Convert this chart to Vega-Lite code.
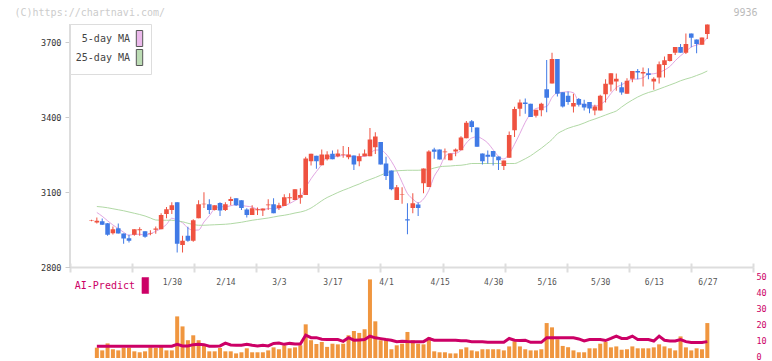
{
"$schema": "https://vega.github.io/schema/vega-lite/v6.json",
"width": 683,
"height": 350,
"autosize": {"type": "none"},
"padding": {"left": 70, "top": 8, "right": 19, "bottom": 3},
"background": "white",
"config": {"view": {"stroke": null}, "font": "DejaVu Sans Mono", "axis": {"grid": false}, "scale": {"continuousPadding": 0}},
"datasets": {"d": [
{"i":1,"o":2985,"h":2989,"l":2983,"c":2987},
{"i":2,"o":2978,"h":2998,"l":2974,"c":2985,"v":6.5,"ai":7.4,"m5":3018,"m25":3042},
{"i":3,"o":2983,"h":2994,"l":2968,"c":2969,"v":4.8,"ai":7.4,"m5":3003,"m25":3040},
{"i":4,"o":2975,"h":2976,"l":2925,"c":2929,"v":9.2,"ai":7.4,"m5":2985,"m25":3037},
{"i":5,"o":2935,"h":2962,"l":2930,"c":2951,"v":5.5,"ai":7.4,"m5":2968,"m25":3033},
{"i":6,"o":2955,"h":2974,"l":2934,"c":2934,"v":4.8,"ai":7.4,"m5":2954,"m25":3029},
{"i":7,"o":2934,"h":2934,"l":2893,"c":2914,"v":6.5,"ai":7.4,"m5":2939,"m25":3025},
{"i":8,"o":2915,"h":2929,"l":2898,"c":2905,"v":6.5,"ai":7.4,"m5":2927,"m25":3020},
{"i":9,"o":2929,"h":2951,"l":2925,"c":2951,"v":4.2,"ai":7.4,"m5":2931,"m25":3015},
{"i":10,"o":2947,"h":2959,"l":2925,"c":2951,"v":3.6,"ai":7.4,"m5":2931,"m25":3010},
{"i":11,"o":2943,"h":2943,"l":2917,"c":2921,"v":4.2,"ai":7.4,"m5":2928,"m25":3004},
{"i":12,"o":2934,"h":2947,"l":2927,"c":2936,"v":6.7,"ai":7.4,"m5":2933,"m25":2996},
{"i":13,"o":2949,"h":2962,"l":2933,"c":2954,"v":6.3,"ai":7.4,"m5":2943,"m25":2988},
{"i":14,"o":2951,"h":3015,"l":2951,"c":3008,"v":6.9,"ai":7.4,"m5":2954,"m25":2987},
{"i":15,"o":3012,"h":3040,"l":2995,"c":3031,"v":4.8,"ai":7.4,"m5":2970,"m25":2987},
{"i":16,"o":3028,"h":3059,"l":3012,"c":3047,"v":4.8,"ai":7.4,"m5":2995,"m25":2987},
{"i":17,"o":3059,"h":3059,"l":2858,"c":2893,"v":26.2,"ai":8.6,"m5":2987,"m25":2984},
{"i":18,"o":2888,"h":2925,"l":2858,"c":2905,"v":19.9,"ai":7.6,"m5":2977,"m25":2981},
{"i":19,"o":2925,"h":2961,"l":2901,"c":2905,"v":11.2,"ai":7.6,"m5":2956,"m25":2975},
{"i":20,"o":2905,"h":2991,"l":2901,"c":2987,"v":14.3,"ai":8.4,"m5":2947,"m25":2970},
{"i":21,"o":2995,"h":3067,"l":2995,"c":3051,"v":11.2,"ai":8.6,"m5":2948,"m25":2967},
{"i":22,"o":3051,"h":3099,"l":3036,"c":3053,"v":7.6,"ai":8.4,"m5":2980,"m25":2967},
{"i":23,"o":3051,"h":3071,"l":3012,"c":3028,"v":4.2,"ai":7.4,"m5":3005,"m25":2968},
{"i":24,"o":3028,"h":3047,"l":3026,"c":3047,"v":4.2,"ai":7.4,"m5":3033,"m25":2969},
{"i":25,"o":3056,"h":3059,"l":3004,"c":3026,"v":6.3,"ai":7.6,"m5":3041,"m25":2970},
{"i":26,"o":3028,"h":3059,"l":3024,"c":3051,"v":4.2,"ai":9.4,"m5":3041,"m25":2971},
{"i":27,"o":3064,"h":3081,"l":3047,"c":3072,"v":4.2,"ai":8.2,"m5":3045,"m25":2973},
{"i":28,"o":3075,"h":3075,"l":3044,"c":3047,"v":2.9,"ai":8.0,"m5":3049,"m25":2976},
{"i":29,"o":3067,"h":3067,"l":3028,"c":3036,"v":3.6,"ai":8.0,"m5":3046,"m25":2979},
{"i":30,"o":3030,"h":3035,"l":2998,"c":3008,"v":6.1,"ai":8.6,"m5":3043,"m25":2983},
{"i":31,"o":3008,"h":3047,"l":3008,"c":3035,"v":3.6,"ai":8.0,"m5":3040,"m25":2987},
{"i":32,"o":3027,"h":3038,"l":3008,"c":3031,"v":3.6,"ai":7.6,"m5":3031,"m25":2990},
{"i":33,"o":3026,"h":3034,"l":3004,"c":3034,"v":3.6,"ai":8.0,"m5":3029,"m25":2993},
{"i":34,"o":3047,"h":3071,"l":3028,"c":3050,"v":4.8,"ai":7.6,"m5":3034,"m25":2996},
{"i":35,"o":3051,"h":3075,"l":3015,"c":3015,"v":6.7,"ai":9.2,"m5":3033,"m25":3000},
{"i":36,"o":3036,"h":3057,"l":3028,"c":3047,"v":5.5,"ai":9.4,"m5":3035,"m25":3004},
{"i":37,"o":3044,"h":3091,"l":3044,"c":3079,"v":8.0,"ai":8.6,"m5":3045,"m25":3007},
{"i":38,"o":3075,"h":3095,"l":3056,"c":3079,"v":6.1,"ai":9.2,"m5":3054,"m25":3011},
{"i":39,"o":3068,"h":3111,"l":3068,"c":3111,"v":6.7,"ai":8.8,"m5":3066,"m25":3016},
{"i":40,"o":3077,"h":3115,"l":3053,"c":3088,"v":8.0,"ai":8.8,"m5":3081,"m25":3020},
{"i":41,"o":3088,"h":3241,"l":3088,"c":3234,"v":21.2,"ai":14.4,"m5":3118,"m25":3026},
{"i":42,"o":3223,"h":3253,"l":3206,"c":3253,"v":11.2,"ai":12.8,"m5":3153,"m25":3036},
{"i":43,"o":3245,"h":3245,"l":3193,"c":3223,"v":8.8,"ai":12.8,"m5":3182,"m25":3050},
{"i":44,"o":3207,"h":3270,"l":3207,"c":3250,"v":10.1,"ai":11.8,"m5":3210,"m25":3065},
{"i":45,"o":3231,"h":3263,"l":3226,"c":3250,"v":7.0,"ai":11.6,"m5":3242,"m25":3078},
{"i":46,"o":3253,"h":3266,"l":3231,"c":3231,"v":9.0,"ai":11.6,"m5":3241,"m25":3088},
{"i":47,"o":3243,"h":3270,"l":3239,"c":3254,"v":8.6,"ai":11.6,"m5":3242,"m25":3098},
{"i":48,"o":3249,"h":3284,"l":3237,"c":3251,"v":9.0,"ai":10.5,"m5":3247,"m25":3107},
{"i":49,"o":3239,"h":3280,"l":3231,"c":3250,"v":14.3,"ai":12.8,"m5":3247,"m25":3115},
{"i":50,"o":3246,"h":3246,"l":3188,"c":3210,"v":17.0,"ai":11.2,"m5":3239,"m25":3124},
{"i":51,"o":3223,"h":3254,"l":3203,"c":3243,"v":15.8,"ai":11.4,"m5":3242,"m25":3132},
{"i":52,"o":3243,"h":3270,"l":3243,"c":3254,"v":18.1,"ai":11.6,"m5":3242,"m25":3142},
{"i":53,"o":3243,"h":3356,"l":3243,"c":3310,"v":49.5,"ai":13.7,"m5":3253,"m25":3150},
{"i":54,"o":3279,"h":3339,"l":3252,"c":3322,"v":23.1,"ai":12.7,"m5":3268,"m25":3158},
{"i":55,"o":3300,"h":3300,"l":3210,"c":3210,"v":11.2,"ai":12.2,"m5":3268,"m25":3167},
{"i":56,"o":3214,"h":3241,"l":3148,"c":3164,"v":12.2,"ai":11.6,"m5":3252,"m25":3176},
{"i":57,"o":3186,"h":3186,"l":3107,"c":3111,"v":5.5,"ai":11.2,"m5":3223,"m25":3182},
{"i":58,"o":3068,"h":3128,"l":3068,"c":3119,"v":8.0,"ai":10.3,"m5":3185,"m25":3185},
{"i":59,"o":3089,"h":3119,"l":3053,"c":3091,"v":9.0,"ai":10.6,"m5":3139,"m25":3186},
{"i":60,"o":2991,"h":3055,"l":2931,"c":2986,"v":16.4,"ai":10.4,"m5":3094,"m25":3187},
{"i":61,"o":3036,"h":3095,"l":3015,"c":3055,"v":11.2,"ai":10.3,"m5":3072,"m25":3187},
{"i":62,"o":3050,"h":3058,"l":3004,"c":3036,"v":9.0,"ai":10.3,"m5":3057,"m25":3187},
{"i":63,"o":3135,"h":3194,"l":3095,"c":3194,"v":8.6,"ai":10.3,"m5":3072,"m25":3188},
{"i":64,"o":3120,"h":3267,"l":3120,"c":3262,"v":13.0,"ai":12.3,"m5":3107,"m25":3190},
{"i":65,"o":3270,"h":3277,"l":3233,"c":3261,"v":4.2,"ai":11.2,"m5":3162,"m25":3196},
{"i":66,"o":3270,"h":3270,"l":3230,"c":3230,"v":3.6,"ai":11.2,"m5":3197,"m25":3201},
{"i":67,"o":3259,"h":3274,"l":3230,"c":3262,"v":3.6,"ai":11.2,"m5":3242,"m25":3203},
{"i":68,"o":3227,"h":3254,"l":3227,"c":3254,"v":2.9,"ai":11.2,"m5":3254,"m25":3204},
{"i":69,"o":3262,"h":3274,"l":3243,"c":3270,"v":2.9,"ai":11.2,"m5":3255,"m25":3206},
{"i":70,"o":3267,"h":3323,"l":3267,"c":3318,"v":5.5,"ai":10.8,"m5":3267,"m25":3207},
{"i":71,"o":3315,"h":3384,"l":3315,"c":3377,"v":6.7,"ai":10.8,"m5":3296,"m25":3210},
{"i":72,"o":3383,"h":3388,"l":3339,"c":3360,"v":4.8,"ai":10.3,"m5":3316,"m25":3214},
{"i":73,"o":3358,"h":3358,"l":3281,"c":3281,"v":4.2,"ai":10.3,"m5":3321,"m25":3214},
{"i":74,"o":3254,"h":3254,"l":3210,"c":3223,"v":5.5,"ai":10.3,"m5":3312,"m25":3214},
{"i":75,"o":3249,"h":3266,"l":3213,"c":3241,"v":5.5,"ai":9.9,"m5":3296,"m25":3214},
{"i":76,"o":3264,"h":3264,"l":3206,"c":3241,"v":5.5,"ai":9.9,"m5":3269,"m25":3214},
{"i":77,"o":3242,"h":3242,"l":3188,"c":3227,"v":5.5,"ai":9.9,"m5":3243,"m25":3214},
{"i":78,"o":3204,"h":3226,"l":3188,"c":3226,"v":4.8,"ai":9.9,"m5":3232,"m25":3214},
{"i":79,"o":3237,"h":3342,"l":3237,"c":3328,"v":7.3,"ai":12.3,"m5":3253,"m25":3214},
{"i":80,"o":3347,"h":3441,"l":3320,"c":3432,"v":10.5,"ai":11.2,"m5":3291,"m25":3214},
{"i":81,"o":3433,"h":3470,"l":3403,"c":3458,"v":7.3,"ai":11.0,"m5":3334,"m25":3222},
{"i":82,"o":3458,"h":3474,"l":3413,"c":3452,"v":5.5,"ai":11.2,"m5":3379,"m25":3233},
{"i":83,"o":3453,"h":3453,"l":3400,"c":3400,"v":4.8,"ai":9.9,"m5":3414,"m25":3245},
{"i":84,"o":3405,"h":3429,"l":3398,"c":3429,"v":4.8,"ai":9.9,"m5":3434,"m25":3260},
{"i":85,"o":3427,"h":3457,"l":3403,"c":3453,"v":5.5,"ai":9.9,"m5":3438,"m25":3275},
{"i":86,"o":3511,"h":3628,"l":3419,"c":3477,"v":22.0,"ai":12.7,"m5":3442,"m25":3292},
{"i":87,"o":3534,"h":3657,"l":3534,"c":3632,"v":19.3,"ai":12.7,"m5":3478,"m25":3310},
{"i":88,"o":3632,"h":3632,"l":3482,"c":3493,"v":11.8,"ai":12.7,"m5":3497,"m25":3333},
{"i":89,"o":3499,"h":3499,"l":3438,"c":3442,"v":7.6,"ai":12.7,"m5":3499,"m25":3345},
{"i":90,"o":3485,"h":3502,"l":3449,"c":3460,"v":6.8,"ai":12.7,"m5":3501,"m25":3355},
{"i":91,"o":3442,"h":3493,"l":3418,"c":3456,"v":4.8,"ai":12.7,"m5":3497,"m25":3362},
{"i":92,"o":3472,"h":3476,"l":3442,"c":3449,"v":3.6,"ai":12.0,"m5":3460,"m25":3368},
{"i":93,"o":3453,"h":3469,"l":3426,"c":3438,"v":3.6,"ai":10.7,"m5":3449,"m25":3376},
{"i":94,"o":3460,"h":3460,"l":3415,"c":3434,"v":6.1,"ai":11.6,"m5":3447,"m25":3385},
{"i":95,"o":3426,"h":3449,"l":3407,"c":3442,"v":6.1,"ai":11.6,"m5":3444,"m25":3392},
{"i":96,"o":3426,"h":3489,"l":3426,"c":3485,"v":9.0,"ai":11.6,"m5":3450,"m25":3400},
{"i":97,"o":3491,"h":3551,"l":3458,"c":3533,"v":10.1,"ai":11.0,"m5":3466,"m25":3408},
{"i":98,"o":3530,"h":3575,"l":3502,"c":3575,"v":6.7,"ai":12.3,"m5":3494,"m25":3416},
{"i":99,"o":3542,"h":3574,"l":3505,"c":3553,"v":7.3,"ai":13.8,"m5":3518,"m25":3424},
{"i":100,"o":3519,"h":3539,"l":3489,"c":3498,"v":5.2,"ai":12.3,"m5":3529,"m25":3440},
{"i":101,"o":3493,"h":3555,"l":3493,"c":3545,"v":5.5,"ai":12.3,"m5":3541,"m25":3455},
{"i":102,"o":3553,"h":3584,"l":3539,"c":3584,"v":7.3,"ai":13.8,"m5":3551,"m25":3468},
{"i":103,"o":3584,"h":3592,"l":3551,"c":3578,"v":6.1,"ai":11.6,"m5":3552,"m25":3480},
{"i":104,"o":3574,"h":3598,"l":3522,"c":3580,"v":6.1,"ai":11.6,"m5":3557,"m25":3490},
{"i":105,"o":3575,"h":3595,"l":3551,"c":3568,"v":6.1,"ai":11.6,"m5":3571,"m25":3498},
{"i":106,"o":3542,"h":3559,"l":3509,"c":3553,"v":6.7,"ai":10.7,"m5":3573,"m25":3504},
{"i":107,"o":3558,"h":3622,"l":3534,"c":3611,"v":8.6,"ai":13.8,"m5":3578,"m25":3512},
{"i":108,"o":3608,"h":3642,"l":3558,"c":3627,"v":7.3,"ai":11.2,"m5":3588,"m25":3520},
{"i":109,"o":3624,"h":3652,"l":3622,"c":3652,"v":6.1,"ai":10.7,"m5":3602,"m25":3528},
{"i":110,"o":3657,"h":3680,"l":3648,"c":3680,"v":4.8,"ai":10.7,"m5":3625,"m25":3536},
{"i":111,"o":3680,"h":3692,"l":3657,"c":3657,"v":13.6,"ai":11.6,"m5":3645,"m25":3545},
{"i":112,"o":3657,"h":3734,"l":3652,"c":3692,"v":6.7,"ai":10.3,"m5":3662,"m25":3552},
{"i":113,"o":3734,"h":3734,"l":3679,"c":3717,"v":4.8,"ai":9.7,"m5":3680,"m25":3558},
{"i":114,"o":3710,"h":3710,"l":3655,"c":3692,"v":6.1,"ai":9.7,"m5":3688,"m25":3566},
{"i":115,"o":3689,"h":3718,"l":3689,"c":3718,"v":5.5,"ai":9.7,"m5":3695,"m25":3574},
{"i":116,"o":3732,"h":3770,"l":3712,"c":3770,"v":22.0,"ai":10.3,"m5":3718,"m25":3584}
]},
"data": {"name": "d"},
"layer": [
  {
    "mark": {"type": "line", "strokeWidth": 1, "interpolate": "monotone", "color": "#e2a6e2"},
    "encoding": {
      "x": {"field": "i", "type": "quantitative", "scale": {"domain": [-3.015, 124.53], "nice": false, "zero": false, "padding": 0}, "axis": null},
      "y": {"field": "m5", "type": "quantitative", "scale": {"domain": [2436, 3836], "nice": false, "zero": false}, "axis": null}
    }
  },
  {
    "mark": {"type": "line", "strokeWidth": 1, "interpolate": "monotone", "color": "#b1d9a5"},
    "encoding": {
      "x": {"field": "i", "type": "quantitative", "scale": {"domain": [-3.015, 124.53], "nice": false, "zero": false, "padding": 0}, "axis": null},
      "y": {"field": "m25", "type": "quantitative", "scale": {"domain": [2436, 3836], "nice": false, "zero": false}, "axis": null}
    }
  },
  {
    "transform": [{"fold": ["m5", "m25"], "as": ["key", "val"]}],
    "mark": {"type": "point", "filled": true, "size": 0},
    "encoding": {
      "x": {"field": "i", "type": "quantitative", "scale": {"domain": [-3.015, 124.53], "nice": false, "zero": false, "padding": 0}, "axis": null},
      "y": {"field": "val", "type": "quantitative", "scale": {"domain": [2436, 3836], "nice": false, "zero": false}, "axis": null},
      "color": {
        "field": "key", "type": "nominal",
        "scale": {"domain": ["m5", "m25"], "range": ["#ebb9eb", "#bcdcb4"]},
        "legend": {
          "orient": "none", "legendX": 0, "legendY": 16, "title": null, "direction": "vertical",
          "padding": 6, "fillColor": "white", "strokeColor": "#dddddd", "rowPadding": -5,
          "symbolType": "M-0.4,-1H0.4V1H-0.4Z", "symbolSize": 256, "symbolStrokeWidth": 1, "symbolStrokeColor": "#555555",
          "symbolOpacity": 1, "symbolOffset": 55, "labelAlign": "right", "labelOffset": -18,
          "labelFont": "DejaVu Sans Mono", "labelFontSize": 10, "labelColor": "#444444",
          "labelExpr": "datum.value == 'm5' ? '5-day MA' : '25-day MA'"
        }
      }
    }
  },
  {
    "mark": {"type": "rule", "strokeWidth": 1},
    "encoding": {
      "x": {"field": "i", "type": "quantitative", "scale": {"domain": [-3.015, 124.53], "nice": false, "zero": false, "padding": 0},
        "axis": {"orient": "bottom", "offset": -91, "values": [-3.015, 8.58, 20.175, 31.77, 43.365, 54.96, 66.555, 78.15, 89.745, 101.34, 112.935, 124.53],
          "labels": false, "domain": true, "domainColor": "#dddddd", "domainWidth": 2, "ticks": true, "tickColor": "#dddddd", "tickWidth": 2, "tickSize": 5, "grid": false, "title": null}},
      "y": {"field": "l", "type": "quantitative", "scale": {"domain": [2436, 3836], "nice": false, "zero": false},
        "axis": {"orient": "left", "values": [2800, 3100, 3400, 3700], "format": "d", "domain": false, "tickSize": 5, "tickColor": "#cccccc", "labelPadding": 4,
          "labelFont": "DejaVu Sans Mono", "labelFontSize": 8.5, "labelColor": "#333333", "grid": false,
          "title": "(C)https://chartnavi.com/", "titleAngle": 0, "titleX": -56, "titleY": 4.5, "titleAlign": "left", "titleBaseline": "middle",
          "titleColor": "#cccccc", "titleFont": "DejaVu Sans Mono", "titleFontSize": 10, "titleFontWeight": "normal"}},
      "y2": {"field": "h"},
      "color": {"condition": {"test": "datum.c >= datum.o", "value": "#ef5240"}, "value": "#407ae6"}
    }
  },
  {
    "mark": {"type": "bar", "width": 4.6},
    "encoding": {
      "x": {"field": "i", "type": "quantitative", "scale": {"domain": [-3.015, 124.53], "nice": false, "zero": false, "padding": 0}, "axis": null},
      "y": {"field": "o", "type": "quantitative", "scale": {"domain": [2436, 3836], "nice": false, "zero": false}, "axis": null},
      "y2": {"field": "c"},
      "color": {"condition": {"test": "datum.c >= datum.o", "value": "#ef5240"}, "value": "#407ae6"}
    }
  },
  {
    "mark": {"type": "bar", "width": 4, "color": "#f0963f"},
    "encoding": {
      "x": {"field": "i", "type": "quantitative", "scale": {"domain": [-3.015, 124.53], "nice": false, "zero": false, "padding": 0},
        "axis": {"orient": "bottom", "offset": -91, "values": [16, 26, 36, 46, 56, 66, 76, 86, 96, 106, 116],
          "labelExpr": "datum.value==16?'1/30':datum.value==26?'2/14':datum.value==36?'3/3':datum.value==46?'3/17':datum.value==56?'4/1':datum.value==66?'4/15':datum.value==76?'4/30':datum.value==86?'5/16':datum.value==96?'5/30':datum.value==106?'6/13':'6/27'",
          "ticks": false, "domain": false, "grid": false, "labelPadding": 11, "labelFont": "DejaVu Sans Mono", "labelFontSize": 8,
          "labelColor": "#555555", "labelFlush": false, "labelOverlap": false, "title": null}},
      "y": {"field": "v", "type": "quantitative", "scale": {"domain": [0, 220.4], "nice": false, "zero": true},
        "axis": {"orient": "right", "values": [0, 10, 20, 30, 40, 50], "domain": false, "ticks": false, "grid": false, "labelPadding": 3,
          "labelFont": "DejaVu Sans Mono", "labelFontSize": 8.5, "labelColor": "#cc0066", "labelBaseline": "middle", "labelOffset": -2,
          "title": "9936", "titleAngle": 0, "titleX": 4, "titleY": 4.5, "titleAlign": "right", "titleBaseline": "middle",
          "titleColor": "#bbbbbb", "titleFont": "DejaVu Sans Mono", "titleFontSize": 10, "titleFontWeight": "normal"}}
    }
  },
  {
    "mark": {"type": "line", "strokeWidth": 3},
    "encoding": {
      "x": {"field": "i", "type": "quantitative", "scale": {"domain": [-3.015, 124.53], "nice": false, "zero": false, "padding": 0}, "axis": null},
      "y": {"field": "ai", "type": "quantitative", "scale": {"domain": [0, 220.4], "nice": false, "zero": true}, "axis": null},
      "color": {
        "datum": "AI-Predict", "type": "nominal", "scale": {"domain": ["AI-Predict"], "range": ["#cc0066"]},
        "legend": {
          "orient": "none", "legendX": 6, "legendY": 269, "title": null, "padding": 0,
          "symbolType": "M-0.42,-1H0.42V1H-0.42Z", "symbolSize": 256, "symbolStrokeWidth": 0.5, "symbolFillColor": "#cc0066",
          "symbolOffset": 60.8, "labelAlign": "right", "labelOffset": -18.8,
          "labelFont": "DejaVu Sans Mono", "labelFontSize": 10, "labelColor": "#cc0066"
        }
      }
    }
  },
  {
    "mark": {"type": "rule", "color": "#dddddd", "strokeWidth": 1.5},
    "encoding": {
      "x": {"datum": -3.015, "type": "quantitative", "scale": {"domain": [-3.015, 124.53], "nice": false, "zero": false, "padding": 0},
        "axis": {"orient": "top", "offset": -259, "values": [-3.015, 8.58, 20.175, 31.77, 43.365, 54.96, 66.555, 78.15, 89.745, 101.34, 112.935, 124.53],
          "labels": false, "domain": false, "ticks": true, "tickColor": "#dddddd", "tickWidth": 2, "tickSize": 4, "grid": false, "title": null}},
      "y": {"datum": 2800, "type": "quantitative", "scale": {"domain": [2436, 3836], "nice": false, "zero": false}, "axis": null},
      "y2": {"datum": 3770}
    }
  }
],
"resolve": {"scale": {"y": "independent", "color": "independent"}, "axis": {"x": "independent", "y": "independent"}}
}
